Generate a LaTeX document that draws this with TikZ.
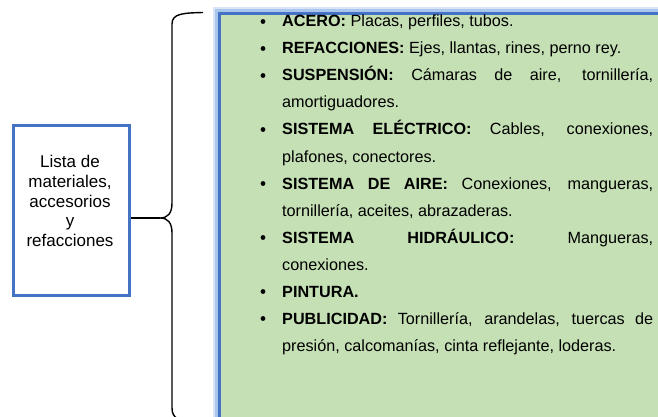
\documentclass[tikz,border=0pt]{standalone}
\usepackage{fontspec}
\setmainfont{Liberation Sans}
\definecolor{boxgreen}{RGB}{197,224,180}
\definecolor{boxblue}{RGB}{68,114,196}
\definecolor{glowblue}{RGB}{170,198,236}
\begin{document}
\begin{tikzpicture}[x=1pt,y=-1pt,
  itemline/.style={anchor=base west, inner sep=0pt, font=\fontsize{16.2}{20}\selectfont},
  bulletdot/.style={circle, fill=black, inner sep=0pt, minimum size=4.8pt},
  bluebox/.style={draw=boxblue, line width=3pt},
  bracepath/.style={draw=black, line width=1.4pt}]
\useasboundingbox (0,0) rectangle (658,417);
\begin{scope}
  \clip (0,0) rectangle (658,417);
  \draw[glowblue!45, line width=10pt] (218,12) rectangle (680,440);
  \draw[glowblue, line width=6pt] (218,12) rectangle (680,440);
  \node[bluebox, fill=boxgreen, anchor=north west, inner sep=0pt,
        minimum width=462pt, minimum height=428pt] (panel) at (218,12) {};
  % brace
  \coordinate (brtop) at (203,12.5);
  \coordinate (brtip) at (160,218);
  \coordinate (brbot) at (192,421);
  \draw[bracepath] (brtop) .. controls (183,13) and (172,13.5) .. (172,24)
     -- (172,203) .. controls (172,213) and (168,218) .. (brtip)
     .. controls (168,218) and (172,223) .. (172,233)
     -- (172,408) .. controls (172,419) and (180,421) .. (brbot);
\end{scope}
% left box
\node[bluebox, anchor=north west, inner sep=0pt, minimum width=116pt, minimum height=170pt] (lista) at (12,124) {};
\node[align=center, inner sep=0pt, font=\fontsize{17}{19.6}\selectfont] (listatext) at (70,201)
  {Lista de\\materiales,\\accesorios\\y\\refacciones};
\draw[bracepath] (lista.east |- brtip) -- (brtip);
% bullets
\foreach \n/\yy in {1/21.5,2/48.5,3/75.5,5/129.5,7/183.5,9/237.5,11/291.5,12/318.5}
  \node[bulletdot] (b\n) at (263,\yy) {};
% lines
\node[itemline] (l1) at (282,27) {\textbf{ACERO:} Placas, perfiles, tubos.};
\node[itemline] (l2) at (282,54) {\textbf{REFACCIONES:} Ejes, llantas, rines, perno rey.};
\node[itemline] (l3) at (282,81) {\makebox[371pt][s]{\textbf{SUSPENSIÓN:} Cámaras de aire, tornillería,}};
\node[itemline] (l4) at (282,108) {amortiguadores.};
\node[itemline] (l5) at (282,135) {\makebox[371pt][s]{\textbf{SISTEMA ELÉCTRICO:} Cables, conexiones,}};
\node[itemline] (l6) at (282,162) {plafones, conectores.};
\node[itemline] (l7) at (282,189) {\makebox[371pt][s]{\textbf{SISTEMA DE AIRE:} Conexiones, mangueras,}};
\node[itemline] (l8) at (282,216) {tornillería, aceites, abrazaderas.};
\node[itemline] (l9) at (282,243) {\makebox[371pt][s]{\textbf{SISTEMA HIDRÁULICO:} Mangueras,}};
\node[itemline] (l10) at (282,270) {conexiones.};
\node[itemline] (l11) at (282,297) {\textbf{PINTURA.}};
\node[itemline] (l12) at (282,324) {\makebox[371pt][s]{\textbf{PUBLICIDAD:} Tornillería, arandelas, tuercas de}};
\node[itemline] (l13) at (282,351) {presión, calcomanías, cinta reflejante, loderas.};
\end{tikzpicture}
\end{document}
